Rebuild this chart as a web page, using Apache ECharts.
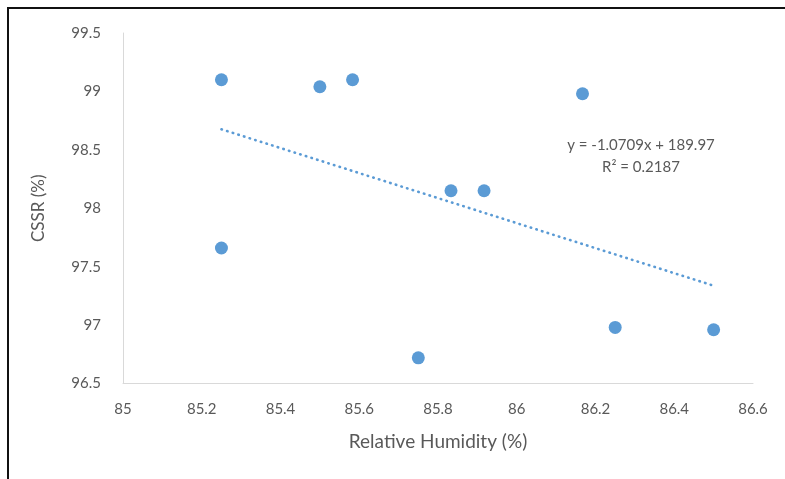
<!DOCTYPE html>
<html>
<head>
<meta charset="utf-8">
<script src="https://cdn.jsdelivr.net/npm/echarts@6/dist/echarts.min.js"></script>
<style>
html,body{margin:0;padding:0;background:#fff;}
#chart{width:785px;height:479px;}
</style>
</head>
<body>
<div id="chart"></div>
<script>
// Data
const humidity = [85.25, 85.25, 85.5, 85.583, 85.75, 85.833, 85.917, 86.167, 86.25, 86.5];
const cssr = [99.10, 97.66, 99.04, 99.10, 96.72, 98.15, 98.15, 98.98, 96.98, 96.96];
const trendSlope = [-1.0709];
const trendIntercept = [189.97];
const equationLines = ['y = -1.0709x + 189.97', 'R² = 0.2187'];
const xTitle = 'Relative Humidity (%)';
const yTitle = 'CSSR (%)';

const points = humidity.map((x, i) => [x, cssr[i]]);
const xMin = Math.min(...humidity), xMax = Math.max(...humidity);
const trend = [xMin, xMax].map(x => [x, trendSlope[0] * x + trendIntercept[0]]);

const FONT = 'Lato';
const TXT = '#595959';

const chart = echarts.init(document.getElementById('chart'), null, {renderer: 'canvas'});
chart.setOption({
  animation: false,
  backgroundColor: '#fff',
  grid: {left: 123, right: 32, top: 33, bottom: 95.5, containLabel: false},
  xAxis: {
    type: 'value', min: 85, max: 86.6, interval: 0.2,
    name: xTitle, nameLocation: 'middle', nameGap: 49,
    nameTextStyle: {color: TXT, fontFamily: FONT, fontSize: 19},
    axisLine: {show: true, lineStyle: {color: '#d9d9d9', width: 1}},
    axisTick: {show: false},
    splitLine: {show: false},
    axisLabel: {color: TXT, fontFamily: FONT, fontSize: 15, margin: 18,
      formatter: v => String(parseFloat(v.toFixed(1)))}
  },
  yAxis: {
    type: 'value', min: 96.5, max: 99.5, interval: 0.5,
    name: yTitle, nameLocation: 'middle', nameGap: 76, nameRotate: 90,
    nameTextStyle: {color: TXT, fontFamily: FONT, fontSize: 17},
    axisLine: {show: true, lineStyle: {color: '#d9d9d9', width: 1}},
    axisTick: {show: false},
    splitLine: {show: false},
    axisLabel: {color: TXT, fontFamily: FONT, fontSize: 15, margin: 22,
      formatter: v => String(parseFloat(v.toFixed(1)))}
  },
  series: [
    {
      type: 'line', data: trend, symbol: 'none', silent: true, z: 1,
      lineStyle: {color: '#5b9bd5', width: 2.6, type: [0.5, 5.4], cap: 'round'}
    },
    {
      type: 'scatter', data: points, symbol: 'circle', symbolSize: 13, z: 2,
      itemStyle: {color: '#5b9bd5', opacity: 1}
    }
  ],
  graphic: [
    {type: 'rect', shape: {x: 8, y: 8, width: 800, height: 500},
     style: {fill: 'none', stroke: '#111', lineWidth: 2}, z: 10},
    {type: 'text', x: 641, y: 145,
     style: {text: equationLines[0], fill: TXT, font: '15px ' + FONT, textAlign: 'center', textVerticalAlign: 'middle'}},
    {type: 'text', x: 641, y: 167,
     style: {text: equationLines[1], fill: TXT, font: '15px ' + FONT, textAlign: 'center', textVerticalAlign: 'middle'}}
  ]
});
</script>
</body>
</html>
